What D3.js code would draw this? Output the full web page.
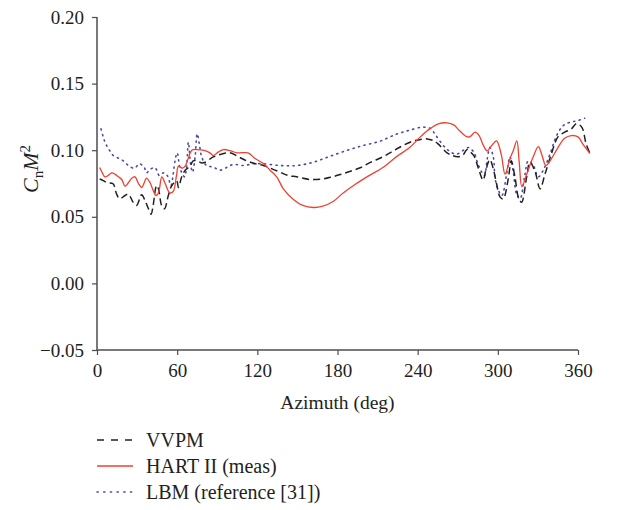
<!DOCTYPE html>
<html>
<head>
<meta charset="utf-8">
<script src="https://cdn.jsdelivr.net/npm/d3@7/dist/d3.min.js"></script>
<style>
  html, body { margin: 0; padding: 0; background: #fff; }
  svg { display: block; }
  text { font-family: "Liberation Serif", "DejaVu Serif", serif; fill: #231f20; }
</style>
</head>
<body>
<svg id="chart" width="624" height="510"></svg>
<script>
// ---- Data ----
const xTicks = [0, 60, 120, 180, 240, 300, 360];
const yTicks = [-0.05, 0.00, 0.05, 0.10, 0.15, 0.20];

const hartAz = [2,4,6,9,11,13.5,16,18.5,21,23,26,28.5,31,33.5,35.5,37,39.5,42,44,46,48.5,51,54.5,57,59.5,61,64,66,68,71,75,80,84.5,87,90,94.5,100,105,113,118,124.5,129.5,134.5,139.5,147,154,162,169,177,184,192,202,214,224,234,242,249,256,262,267,271,276,279,283,286,289,292,295.4,299,302.5,305.4,309,311.6,314.2,316,318,321.6,326.5,330.3,332.8,336,340,345,350,355,360,364,369];
const hartVal = [0.087,0.083,0.080,0.0815,0.083,0.082,0.080,0.078,0.073,0.075,0.079,0.080,0.075,0.072,0.076,0.079,0.076,0.070,0.066,0.068,0.080,0.075,0.068,0.069,0.081,0.088,0.0865,0.088,0.093,0.100,0.1005,0.0998,0.098,0.096,0.098,0.1005,0.0995,0.098,0.098,0.094,0.090,0.085,0.080,0.071,0.063,0.0585,0.057,0.058,0.0617,0.0677,0.0735,0.080,0.087,0.095,0.102,0.110,0.116,0.120,0.1205,0.119,0.115,0.1105,0.110,0.1135,0.111,0.104,0.0995,0.1035,0.107,0.097,0.082,0.0935,0.0998,0.107,0.091,0.0725,0.082,0.095,0.1027,0.097,0.0885,0.0935,0.102,0.109,0.111,0.110,0.104,0.0975];

const vvpmAz = [2,5,8,12,14.7,17,21,23.5,27,29.6,33.4,36,38.5,40.5,42,44.6,46,48.5,50.5,53.4,56,59.6,61,63.4,66,69.6,72,75,78,81,87,93,99.5,106,112,118,124.5,131,137,143,149.5,159.4,169.4,176,182,189,197,205,214,221,229,237,242,247,251,255,262,266,270,274,277,279,282,285.6,289,291,294,296.6,299,301.6,304,307.8,310,312.8,315.3,317.8,321.6,324,328,331.6,335.3,340,345,350,355,359,363,366,369];
const vvpmVal = [0.0785,0.077,0.0755,0.0748,0.067,0.0635,0.066,0.067,0.061,0.0585,0.0665,0.062,0.056,0.052,0.0585,0.0735,0.071,0.058,0.056,0.066,0.0735,0.077,0.072,0.080,0.085,0.088,0.092,0.092,0.0905,0.091,0.095,0.097,0.098,0.095,0.092,0.090,0.0885,0.086,0.0835,0.081,0.080,0.078,0.0785,0.080,0.0817,0.084,0.0868,0.091,0.095,0.099,0.1035,0.107,0.108,0.1085,0.1075,0.105,0.098,0.096,0.095,0.0965,0.1005,0.099,0.096,0.086,0.0775,0.085,0.093,0.086,0.075,0.065,0.0635,0.0785,0.092,0.080,0.065,0.061,0.080,0.091,0.0835,0.071,0.082,0.097,0.110,0.1135,0.116,0.120,0.117,0.105,0.0975];

const lbmAz = [3,4.5,6,8,10,12.2,16,19.7,23.5,28,31.7,35.4,37,39.7,43.4,46.6,49.6,52.6,55.4,57,58.4,60,62,64,65.5,67,68.4,70,71.5,73.4,75,77,78.4,82,87,92,97,102,109.5,117,124.5,137,149.5,162,174,187,199,212,224,234,244,250,253,258,263,269,274,278,282,285,288,290,292,294,296.6,298,300.4,303,306.6,309,311.6,314,316.6,320,322.8,326.6,330.3,334,339,344,349,354,359,365];
const lbmVal = [0.116,0.1105,0.106,0.102,0.099,0.096,0.094,0.092,0.0885,0.0865,0.0898,0.087,0.083,0.0855,0.087,0.081,0.083,0.081,0.0735,0.082,0.092,0.098,0.087,0.082,0.080,0.087,0.106,0.090,0.0835,0.0948,0.1123,0.102,0.0948,0.0885,0.0873,0.085,0.087,0.0893,0.0885,0.0898,0.0898,0.0885,0.0885,0.091,0.0953,0.0998,0.1035,0.1068,0.112,0.115,0.1173,0.116,0.112,0.105,0.0998,0.097,0.0998,0.102,0.0985,0.090,0.0835,0.081,0.093,0.102,0.095,0.0785,0.070,0.066,0.082,0.095,0.0835,0.067,0.0635,0.080,0.092,0.0885,0.080,0.085,0.097,0.111,0.1185,0.121,0.122,0.124];

const legendLabels = ["VVPM", "HART II (meas)", "LBM (reference [31])"];

// ---- Layout ----
const svg = d3.select("#chart");
const mLeft = 97, mRight = 578, mTop = 17, mBottom = 350;

const x = d3.scaleLinear().domain([0, 360]).range([mLeft, mRight]);
const y = d3.scaleLinear().domain([-0.05, 0.20]).range([mBottom, mTop]);

const axisColor = "#4d4d4f";

// Y axis
const yAxis = svg.append("g")
  .attr("transform", `translate(${mLeft},0)`)
  .call(d3.axisLeft(y).tickValues(yTicks).tickSize(5).tickPadding(8)
    .tickFormat(d => (d < 0 ? "\u22120.05" : d3.format(".2f")(d))));
yAxis.select(".domain").attr("stroke", axisColor).attr("stroke-width", 1.5)
  .attr("d", `M0,${mTop}V${mBottom}`);
yAxis.selectAll(".tick line").attr("stroke", axisColor).attr("stroke-width", 1.2);
yAxis.selectAll(".tick text").style("font-size", "19px").attr("fill", "#231f20")
  .style("font-family", "'Liberation Serif', serif");

// X axis
const xAxis = svg.append("g")
  .attr("transform", `translate(0,${mBottom})`)
  .call(d3.axisBottom(x).tickValues(xTicks).tickSize(5).tickPadding(9).tickFormat(d3.format("d")));
xAxis.select(".domain").attr("stroke", axisColor).attr("stroke-width", 1.5)
  .attr("d", `M${mLeft},0H${mRight}`);
xAxis.selectAll(".tick line").attr("stroke", axisColor).attr("stroke-width", 1.2);
xAxis.selectAll(".tick text").style("font-size", "19px").attr("fill", "#231f20")
  .style("font-family", "'Liberation Serif', serif");

// Axis titles
svg.append("text")
  .attr("x", (mLeft + mRight) / 2).attr("y", 409)
  .attr("text-anchor", "middle")
  .style("font-size", "19.5px")
  .text("Azimuth (deg)");

const yl = svg.append("text")
  .attr("transform", "translate(38,169) rotate(-90)")
  .attr("text-anchor", "middle")
  .style("font-size", "22px");
yl.append("tspan").style("font-style", "italic").text("C");
yl.append("tspan").attr("dy", 5).style("font-size", "15px").text("n");
yl.append("tspan").attr("dy", -5).style("font-style", "italic").text("M");
yl.append("tspan").attr("dy", -8).style("font-size", "15px").text("2");

// ---- Lines ----
const line = d3.line()
  .x(d => x(d[0])).y(d => y(d[1]))
  .curve(d3.curveCatmullRom.alpha(0.5));

const styles = [
  { color: "#231f20", width: 1.5, dash: "7,4" },
  { color: "#ef4130", width: 1.3, dash: null },
  { color: "#4b4ba8", width: 1.6, dash: "1.2,4.5" }
];

const series = [
  d3.zip(vvpmAz, vvpmVal),
  d3.zip(hartAz, hartVal),
  d3.zip(lbmAz, lbmVal)
];

const drawOrder = [2, 0, 1];
drawOrder.forEach(i => {
  svg.append("path")
    .datum(series[i])
    .attr("fill", "none")
    .attr("stroke", styles[i].color)
    .attr("stroke-width", styles[i].width)
    .attr("stroke-dasharray", styles[i].dash)
    .attr("stroke-linecap", i === 2 ? "round" : "butt")
    .attr("d", line);
});

// ---- Legend ----
const legendY = [440, 466, 492];
legendLabels.forEach((lab, i) => {
  const g = svg.append("g");
  g.append("line")
    .attr("x1", 97).attr("x2", 133)
    .attr("y1", legendY[i]).attr("y2", legendY[i])
    .attr("stroke", styles[i].color)
    .attr("stroke-width", styles[i].width)
    .attr("stroke-dasharray", i === 0 ? "7,7" : (i === 2 ? "1.2,5.5" : null))
    .attr("stroke-linecap", i === 2 ? "round" : "butt");
  g.append("text")
    .attr("x", 146).attr("y", legendY[i] + 7)
    .style("font-size", "20px")
    .text(lab);
});
</script>
</body>
</html>
